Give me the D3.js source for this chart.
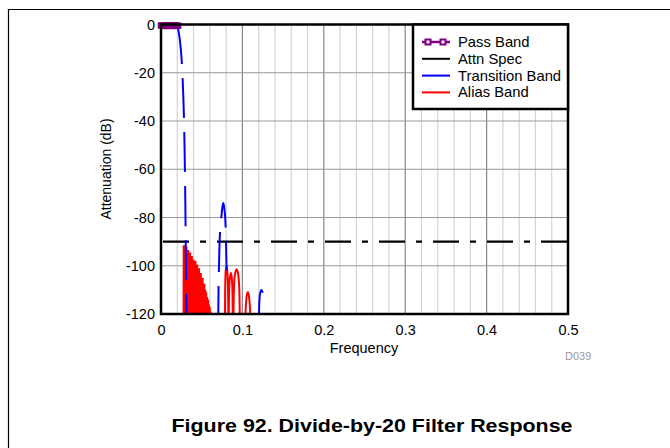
<!DOCTYPE html>
<html>
<head>
<meta charset="utf-8">
<script src="https://d3js.org/d3.v7.min.js"></script>
<style>
body { margin: 0; background: #fff; }
text { font-family: "Liberation Sans", Arial, sans-serif; }
</style>
</head>
<body>
<div id="chart"></div>
<script>
// values: [frequency, attenuation dB]
var passBand = [[0, -0.4], [0.003, -0.6], [0.006, -0.3], [0.009, -0.6], [0.012, -0.3], [0.015, -0.6], [0.018, -0.3], [0.021, -0.5]];

var attnSpec = [[0, -90], [0.5, -90]];

// null = break in the curve
var transitionBand = [
  [0.0197, 0], [0.0230, -6], [0.0258, -17], [0.0272, -28], [0.0283, -40], [0.0290, -52],
  [0.0295, -63], [0.0299, -74], [0.0302, -85], [0.0305, -95], [0.0308, -105], [0.0312, -120], [0.0315, -130],
  null,
  [0.0703, -125], [0.0705, -115], [0.0710, -104], [0.0716, -95], [0.0725, -86], [0.0741, -80],
  [0.0755, -75.5], [0.0765, -74], [0.0775, -75.5], [0.0790, -81], [0.0799, -90], [0.0802, -96], [0.0807, -102],
  null,
  [0.1202, -125], [0.1206, -117], [0.1215, -112], [0.1232, -110], [0.1248, -111], [0.1260, -114], [0.1268, -117]
];

// dense part (spikes) then the separate lobes
var aliasDense = [
  [0.0283, -130], [0.0285, -91.5], [0.0290, -130], [0.0296, -92.5], [0.0301, -130], [0.0307, -92],
  [0.0312, -130], [0.0318, -94], [0.0323, -130], [0.0329, -93.5], [0.0334, -130], [0.0340, -95],
  [0.0345, -130], [0.0351, -94.5], [0.0356, -130], [0.0362, -97], [0.0367, -130], [0.0373, -96],
  [0.0378, -130], [0.0384, -98.5], [0.0389, -130], [0.0395, -97.5], [0.0400, -130], [0.0406, -99],
  [0.0411, -130], [0.0417, -98], [0.0422, -130], [0.0428, -101], [0.0433, -130], [0.0439, -99.5],
  [0.0444, -130], [0.0450, -102], [0.0455, -130], [0.0461, -101], [0.0466, -130], [0.0472, -104],
  [0.0477, -130], [0.0483, -103], [0.0488, -130], [0.0494, -106], [0.0499, -130], [0.0505, -105],
  [0.0510, -130], [0.0516, -108], [0.0521, -130], [0.0527, -107.5], [0.0532, -130], [0.0538, -110],
  [0.0543, -130], [0.0549, -111], [0.0554, -130], [0.0560, -113], [0.0565, -130], [0.0571, -114],
  [0.0576, -130], [0.0582, -116], [0.0587, -130], [0.0593, -117], [0.0598, -130], [0.0604, -119],
  [0.0609, -130], [0.0612, -120], [0.0616, -130]
];
var aliasLobes = [
  [0.0785, -125], [0.0788, -110], [0.0795, -102], [0.0806, -100], [0.0816, -103], [0.0824, -110], [0.0829, -125],
  [0.0830, -125], [0.0836, -112], [0.0846, -105], [0.0860, -103], [0.0872, -106], [0.0879, -113], [0.0883, -125],
  [0.0887, -125], [0.0895, -111], [0.0907, -104], [0.0929, -101.5], [0.0950, -104], [0.0963, -111], [0.0971, -125],
  [0.1032, -125], [0.1042, -117], [0.1053, -112.5], [0.1066, -111], [0.1080, -112.5], [0.1092, -117], [0.1102, -125]
];

var xTicks = [0, 0.1, 0.2, 0.3, 0.4, 0.5];
var yTicks = [0, -20, -40, -60, -80, -100, -120];
var legendNames = ["Pass Band", "Attn Spec", "Transition Band", "Alias Band"];
var legendColors = ["#800080", "#000000", "#0000ff", "#ff0000"];

var width = 670, height = 448;
var pLeft = 161, pRight = 568, pTop = 24.5, pBottom = 314;

var svg = d3.select("#chart").append("svg")
    .attr("width", width)
    .attr("height", height);

// page frame (top + left edge only)
svg.append("path")
    .attr("d", "M8.5,448V9.5H670")
    .attr("fill", "none")
    .attr("stroke", "#000")
    .attr("stroke-width", 1.2);

var x = d3.scaleLinear().domain([0, 0.5]).range([pLeft, pRight]);
var y = d3.scaleLinear().domain([0, -120]).range([pTop, pBottom]);

svg.append("clipPath").attr("id", "plotclip")
  .append("rect")
    .attr("x", pLeft).attr("y", pTop)
    .attr("width", pRight - pLeft).attr("height", pBottom - pTop);

// grid
var grid = svg.append("g");
grid.selectAll(".vminor")
    .data(x.ticks(25))
  .enter().append("line")
    .attr("x1", function(d) { return x(d); })
    .attr("x2", function(d) { return x(d); })
    .attr("y1", pTop).attr("y2", pBottom)
    .attr("stroke", function(d) { return xTicks.some(function(t) { return Math.abs(t - d) < 1e-9; }) ? "#888" : "#d4d4d4"; })
    .attr("stroke-width", 1.2);
grid.selectAll(".h")
    .data(yTicks)
  .enter().append("line")
    .attr("x1", pLeft).attr("x2", pRight)
    .attr("y1", function(d) { return y(d); })
    .attr("y2", function(d) { return y(d); })
    .attr("stroke", "#999")
    .attr("stroke-width", 1.2);

// axes (labels only, frame drawn after); plain hyphen for the minus
var yAxis = svg.append("g")
    .attr("transform", "translate(" + pLeft + ",0)")
    .call(d3.axisLeft(y).tickValues(yTicks).tickSize(0).tickPadding(6).tickFormat(function(d) { return String(d); }));
var xAxis = svg.append("g")
    .attr("transform", "translate(0," + pBottom + ")")
    .call(d3.axisBottom(x).tickValues(xTicks).tickSize(0).tickPadding(11).tickFormat(function(d) { return d == 0 ? "0" : d.toFixed(1); }));
[xAxis, yAxis].forEach(function(a) {
  a.select(".domain").remove();
  a.attr("font-family", "Liberation Sans, Arial, sans-serif").attr("font-size", 14.5);
  a.selectAll("text").attr("fill", "#000");
});

svg.append("text")
    .attr("x", 364).attr("y", 353)
    .attr("text-anchor", "middle")
    .attr("font-size", 14.5)
    .text("Frequency");

svg.append("text")
    .attr("transform", "translate(111,169) rotate(-90)")
    .attr("text-anchor", "middle")
    .attr("font-size", 14)
    .text("Attenuation (dB)");

var line = d3.line()
    .defined(function(d) { return d !== null; })
    .x(function(d) { return x(d[0]); })
    .y(function(d) { return y(d[1]); });

var plot = svg.append("g").attr("clip-path", "url(#plotclip)");

// attenuation spec, dash-dot
plot.append("path")
    .datum(attnSpec)
    .attr("d", line)
    .attr("fill", "none")
    .attr("stroke", "#000")
    .attr("stroke-width", 2.2)
    .attr("stroke-dasharray", "26,11,6,11")
    .attr("stroke-dashoffset", 52);

plot.append("path")
    .datum(aliasDense)
    .attr("d", line)
    .attr("fill", "none")
    .attr("stroke", "#ff0000")
    .attr("stroke-width", 3)
    .attr("stroke-linejoin", "bevel");

plot.append("path")
    .datum(aliasLobes)
    .attr("d", line.curve(d3.curveMonotoneX))
    .attr("fill", "none")
    .attr("stroke", "#ff0000")
    .attr("stroke-width", 2);

plot.append("path")
    .datum(transitionBand)
    .attr("d", line.curve(d3.curveMonotoneX))
    .attr("fill", "none")
    .attr("stroke", "#0000ff")
    .attr("stroke-width", 2)
    .attr("stroke-dasharray", "40,14");

line.curve(d3.curveLinear);

// pass band with square markers
svg.append("path")
    .datum(passBand)
    .attr("d", line)
    .attr("fill", "none")
    .attr("stroke", "#800080")
    .attr("stroke-width", 3);
svg.selectAll(".pb")
    .data(passBand)
  .enter().append("rect")
    .attr("x", function(d) { return x(d[0]) - 2.5; })
    .attr("y", function(d) { return y(d[1]) - 2.5; })
    .attr("width", 5).attr("height", 5)
    .attr("fill", "#800080")
    .attr("stroke", "#800080")
    .attr("stroke-width", 1.5);

// plot frame
svg.append("rect")
    .attr("x", pLeft).attr("y", pTop)
    .attr("width", pRight - pLeft).attr("height", pBottom - pTop)
    .attr("fill", "none")
    .attr("stroke", "#000")
    .attr("stroke-width", 2.5);

// legend
var lg = svg.append("g");
lg.append("rect")
    .attr("x", 413).attr("y", pTop)
    .attr("width", pRight - 413).attr("height", 109 - pTop)
    .attr("fill", "#fff")
    .attr("stroke", "#000")
    .attr("stroke-width", 2.5);

var rows = lg.selectAll(".row")
    .data(legendNames)
  .enter().append("g")
    .attr("transform", function(d, i) { return "translate(0," + (42 + i * 16.8) + ")"; });
rows.append("line")
    .attr("x1", 422).attr("x2", 450)
    .attr("y1", 0).attr("y2", 0)
    .attr("stroke", function(d, i) { return legendColors[i]; })
    .attr("stroke-width", function(d, i) { return i == 0 ? 2.5 : 2; });
rows.filter(function(d, i) { return i == 0; })
  .selectAll("rect")
    .data([428, 443])
  .enter().append("rect")
    .attr("x", function(d) { return d - 2.5; })
    .attr("y", -2.5)
    .attr("width", 5).attr("height", 5)
    .attr("fill", "#fff")
    .attr("stroke", "#800080")
    .attr("stroke-width", 2);
rows.append("text")
    .attr("x", 458).attr("y", 5)
    .attr("font-size", 14.8)
    .text(function(d) { return d; });

svg.append("text")
    .attr("x", 565).attr("y", 360)
    .attr("font-size", 11)
    .attr("fill", "#999")
    .text("D039");

svg.append("text")
    .attr("x", 372).attr("y", 432)
    .attr("text-anchor", "middle")
    .attr("font-size", 19)
    .attr("font-weight", "bold")
    .attr("textLength", 401)
    .attr("lengthAdjust", "spacingAndGlyphs")
    .text("Figure 92. Divide-by-20 Filter Response");
</script>
</body>
</html>
